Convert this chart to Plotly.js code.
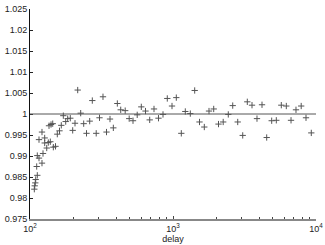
<!DOCTYPE html>
<html>
<head>
<meta charset="utf-8">
<script src="https://cdn.plot.ly/plotly-3.0.1.min.js"></script>
<style>html,body{margin:0;padding:0;background:#fff;}#chart{width:325px;height:245px;}</style>
</head>
<body>
<div id="chart"></div>
<script>
// delay values (log x axis)
const delay = [107.2,107.9,108.9,109.6,112.5,111.4,112.5,115.6,115.6,121.3,121.3,123.3,126.7,126.7,130.9,134.3,135.8,138.7,140.3,144.2,145.6,150.8,155.2,160.8,165.5,171.0,177.7,183.5,191.3,198.9,206.4,215.6,226.2,237.4,248.4,261.5,272.7,290.4,306.2,323.9,342.8,362.6,382.6,408.1,430.9,463.2,494.0,525.2,562.0,600.2,642.3,687.3,736.5,791.6,851.3,912.2,984.0,1054.6,1142.9,1219.0,1321.3,1418.2,1532.2,1655.4,1785.6,1926.1,2081,2244,2436,2616,2835,3073,3308,3568,3867,4192,4521,4900,5278,5720,6199,6688,7246,7878,8513,9270];
// ratio values
const ratio = [0.9821,0.9829,0.9836,0.9844,0.9854,0.9875,0.9901,0.9895,0.9939,0.9957,0.9883,0.9906,0.9943,0.9931,0.9919,0.9932,0.9972,0.9934,0.9975,0.9977,0.9921,0.9923,0.9952,0.9960,0.9973,0.9996,0.9982,0.9989,0.9990,0.9961,0.9978,1.0057,1.0002,0.9977,0.9954,0.9983,1.0032,0.9954,0.9991,1.0041,0.9957,0.9988,0.9967,1.0025,1.0010,1.0008,0.9989,0.9984,0.9998,1.0017,1.0007,0.9986,1.0012,0.9990,0.9999,1.0037,1.0019,1.0039,0.9954,1.0006,1.0001,1.0056,0.9981,0.9969,1.0007,1.0012,0.9976,0.9981,0.9999,1.0020,0.9981,0.9949,1.0029,1.0021,0.9989,1.0022,0.9944,0.9984,0.9985,1.0021,1.0019,0.9985,1.0010,1.0019,0.9991,0.9955];
const refLevel = [1];
const xTickVals = [100, 1000, 10000];
const xTickText = ['10<sup>2</sup>', '10<sup>3</sup>', '10<sup>4</sup>'];
const xMinorVals = [200,300,400,500,600,700,800,900,2000,3000,4000,5000,6000,7000,8000,9000];
const yTickVals = [0.975,0.98,0.985,0.99,0.995,1,1.005,1.01,1.015,1.02,1.025];
const yTickText = ['0.975','0.98','0.985','0.99','0.995','1','1.005','1.01','1.015','1.02','1.025'];

const font = {family: 'Liberation Sans, Arial, sans-serif', size: 9, color: '#222'};

const data = [{
  x: delay, y: ratio, type: 'scatter', mode: 'markers',
  marker: {symbol: 'cross-thin-open', size: 4.5, line: {width: 1, color: '#555'}, color: '#555'},
  hoverinfo: 'none', showlegend: false
}];

const layout = {
  width: 325, height: 245,
  margin: {l: 30, r: 9, t: 9, b: 26},
  paper_bgcolor: '#fff', plot_bgcolor: '#fff',
  font: font,
  showlegend: false,
  xaxis: {
    type: 'log', range: [2, 4],
    tickmode: 'array', tickvals: xTickVals, ticktext: xTickText,
    ticks: 'inside', ticklen: 3, tickcolor: '#444',
    minor: {tickmode: 'array', tickvals: xMinorVals, ticks: 'inside', ticklen: 2, tickcolor: '#444', showgrid: false},
    showgrid: false, zeroline: false,
    showline: true, linecolor: '#888', linewidth: 2,
    tickfont: font,
    title: {text: 'delay', font: font, standoff: 0}
  },
  yaxis: {
    range: [0.975, 1.025],
    tickmode: 'array', tickvals: yTickVals, ticktext: yTickText,
    ticks: 'inside', ticklen: 3, tickcolor: '#222',
    showgrid: false, zeroline: false,
    showline: true, linecolor: '#111', linewidth: 1,
    tickfont: font
  },
  shapes: refLevel.map(v => ({type: 'line', xref: 'paper', x0: 0, x1: 1, yref: 'y', y0: v, y1: v, line: {color: '#555', width: 1}}))
};

Plotly.newPlot('chart', data, layout, {staticPlot: true, displayModeBar: false});
</script>
</body>
</html>
